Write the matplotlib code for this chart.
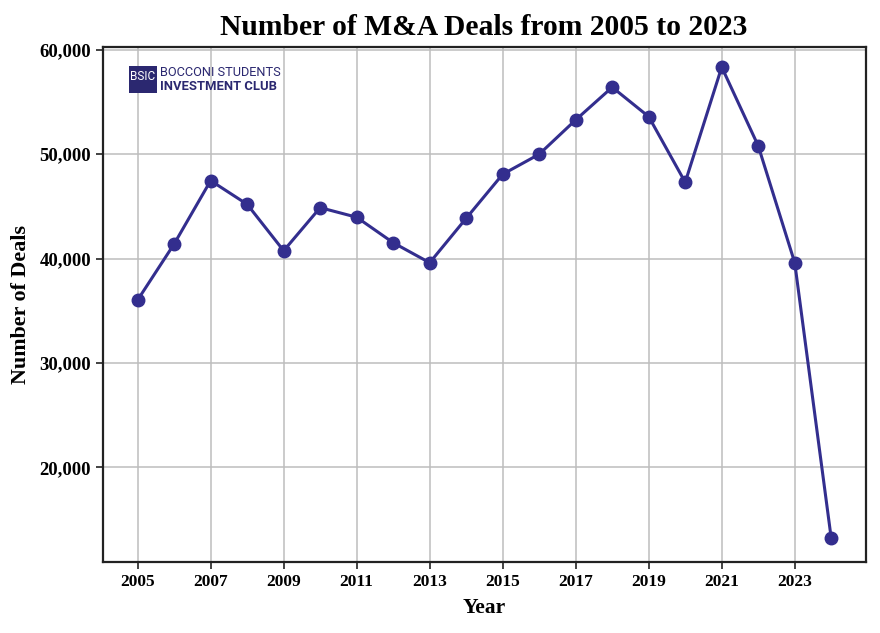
import matplotlib
matplotlib.use("Agg")
import matplotlib.pyplot as plt
from matplotlib.patches import Rectangle
from matplotlib.ticker import FuncFormatter

years = [2005, 2006, 2007, 2008, 2009, 2010, 2011, 2012, 2013, 2014,
         2015, 2016, 2017, 2018, 2019, 2020, 2021, 2022, 2023, 2024]
deals = [36030, 41400, 47470, 45200, 40750, 44880, 43960, 41520, 39600, 43860,
         48080, 50000, 53290, 56420, 53600, 47310, 58350, 50800, 39600, 13180]
xticks = [2005, 2007, 2009, 2011, 2013, 2015, 2017, 2019, 2021, 2023]
yticks = [20000, 30000, 40000, 50000, 60000]

line_color = "#332e8e"
serif = ["Liberation Serif", "DejaVu Serif"]

fig = plt.figure(figsize=(8.8, 6.33), dpi=100)
ax = fig.add_axes([0.117, 0.112, 0.867, 0.814])

ax.plot(years, deals, color=line_color, linewidth=2.2, marker="o",
        markersize=9, zorder=3)

ax.set_ylim(10910, 60290)
ax.set_xticks(xticks)
ax.set_yticks(yticks)
ax.yaxis.set_major_formatter(FuncFormatter(lambda v, p: f"{int(v):,}"))
ax.grid(True, color="#bdbdbd", linewidth=1.1)
ax.set_axisbelow(True)
for s in ax.spines.values():
    s.set_linewidth(1.6)
    s.set_color("#222222")
ax.tick_params(axis="both", length=5, width=1.2, color="#222222")
for lab in ax.get_xticklabels():
    lab.set_fontfamily(serif)
    lab.set_fontweight("bold")
    lab.set_fontsize(12.5)
for lab in ax.get_yticklabels():
    lab.set_fontfamily(serif)
    lab.set_fontweight("bold")
    lab.set_fontsize(13.5)

ax.set_xlabel("Year", fontfamily=serif, fontweight="bold", fontsize=15.5, labelpad=6)
ax.set_ylabel("Number of Deals", fontfamily=serif, fontweight="bold", fontsize=15.8, labelpad=6)
fig.suptitle("Number of M&A Deals from 2005 to 2023", fontfamily=serif,
             fontweight="bold", fontsize=21.3, x=0.55, y=0.978)

# logo
logo_color = "#2b2870"
fig.patches.append(Rectangle((129/880, 1-93/633), 28/880, 27/633,
                             transform=fig.transFigure, facecolor=logo_color,
                             edgecolor="none", zorder=5))
fig.text(143/880, 1-76/633, "BSIC", color="white", fontsize=8.5, ha="center",
         va="center", fontfamily="Roboto", zorder=6)
fig.text(160/880, 1-73/633, "BOCCONI STUDENTS", color=logo_color, fontsize=9.2,
         ha="left", va="center", fontfamily="Roboto", zorder=6)
fig.text(160/880, 1-86/633, "INVESTMENT CLUB", color=logo_color, fontsize=9.4,
         ha="left", va="center", fontfamily="Roboto", fontweight="bold", zorder=6)

fig.savefig("out.png", dpi=100)
